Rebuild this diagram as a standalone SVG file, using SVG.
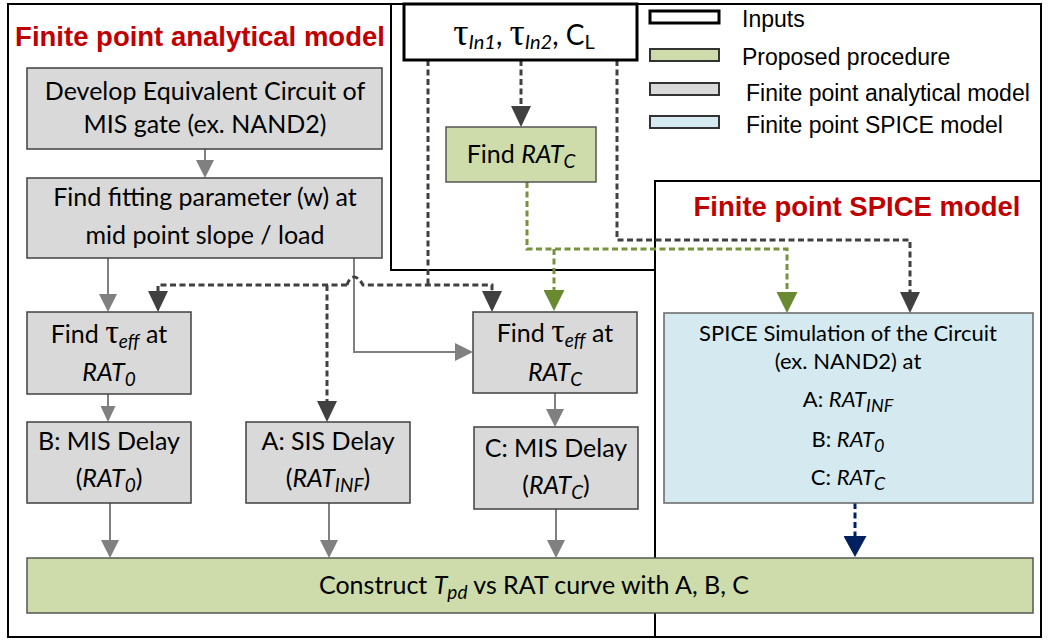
<svg xmlns="http://www.w3.org/2000/svg" width="1049" height="640" viewBox="0 0 1049 640">
<style>
.frame{fill:none;stroke:#000;stroke-width:2}
.gbox{fill:#d9d9d9;stroke:#404040;stroke-width:1.5}
.green{fill:#cddcaa;stroke:#555;stroke-width:1.5}
.blue{fill:#d4eaf0;stroke:#666;stroke-width:1.5}
.t{font-family:Lato,'Noto Sans',sans-serif;font-size:25px;fill:#000;text-anchor:middle}
.it{font-style:italic}
.sub{font-style:italic;font-size:19px}
.tau{font-family:'Liberation Serif',serif;font-size:34px}
.title{font-family:'Liberation Sans',Arial,sans-serif;font-weight:bold;font-size:27.5px;fill:#c00000;text-anchor:middle}
.leg{font-family:'Liberation Sans',Arial,sans-serif;font-size:23px;fill:#000}
.dd{fill:none;stroke:#404040;stroke-width:3;stroke-dasharray:6 3.5}
.gd{fill:none;stroke:#76923c;stroke-width:3;stroke-dasharray:6 3.5}
.nd{fill:none;stroke:#002060;stroke-width:3;stroke-dasharray:6 3.5}
.gs{fill:none;stroke:#808080;stroke-width:2}
.sp{font-size:22px}
.sps{font-size:18px}
</style>
<defs>
<marker id="mGray" markerUnits="userSpaceOnUse" markerWidth="18" markerHeight="18" refX="8" refY="9" orient="auto"><path d="M0,0 L18,9 L0,18 z" fill="#808080"/></marker>
<marker id="mGraySm" markerUnits="userSpaceOnUse" markerWidth="16" markerHeight="15" refX="6" refY="7.5" orient="auto"><path d="M0,0 L16,7.5 L0,15 z" fill="#808080"/></marker>
<marker id="mDark" markerUnits="userSpaceOnUse" markerWidth="21" markerHeight="20" refX="11" refY="10" orient="auto"><path d="M0,0 L21,10 L0,20 z" fill="#404040"/></marker>
<marker id="mGreen" markerUnits="userSpaceOnUse" markerWidth="21" markerHeight="21" refX="11" refY="10.5" orient="auto"><path d="M0,0 L21,10.5 L0,21 z" fill="#6a8a32"/></marker>
<marker id="mNavy" markerUnits="userSpaceOnUse" markerWidth="21" markerHeight="23" refX="11" refY="11.5" orient="auto"><path d="M0,0 L21,11.5 L0,23 z" fill="#002060"/></marker>
</defs>

<g id="frames">
<rect class="frame" x="8" y="4" width="1033" height="633"/>
<path class="frame" d="M391,4 V270 H655"/>
<path class="frame" d="M655,637 V181 H1041"/>
<text class="title" x="200" y="46">Finite point analytical model</text>
<text class="title" x="857" y="216">Finite point SPICE model</text>
</g>

<g id="legend">
<rect x="650" y="11" width="69" height="12" fill="#fff" stroke="#000" stroke-width="3"/>
<rect x="650" y="49" width="69" height="12" fill="#cddcaa" stroke="#333" stroke-width="2"/>
<rect x="650" y="83" width="69" height="12" fill="#d9d9d9" stroke="#333" stroke-width="2"/>
<rect x="650" y="116" width="69" height="12" fill="#d4eaf0" stroke="#333" stroke-width="2"/>
<text class="leg" x="742" y="27">Inputs</text>
<text class="leg" x="742" y="65">Proposed procedure</text>
<text class="leg" x="746" y="101">Finite point analytical model</text>
<text class="leg" x="746" y="133">Finite point SPICE model</text>
</g>

<g id="connectors">
<path class="gs" d="M205,149 V168" marker-end="url(#mGray)"/>
<path class="gs" d="M108,258 V302" stroke-width="2.5" marker-end="url(#mGray)"/>
<path class="gs" d="M108,394 V412" stroke-width="1.5" marker-end="url(#mGraySm)"/>
<path class="gs" d="M354,258 V352 H463" stroke="#a6a6a6" marker-end="url(#mGray)"/>
<path class="gs" d="M555,393 V417" marker-end="url(#mGray)"/>
<path class="gs" d="M110,503 V548" marker-end="url(#mGray)"/>
<path class="gs" d="M329,503 V548" marker-end="url(#mGray)"/>
<path class="gs" d="M556,509 V548" marker-end="url(#mGray)"/>
<path class="dd" d="M428,60 V285"/>
<path class="dd" d="M347,285 H158 V302" marker-end="url(#mDark)"/>
<path class="dd" d="M347,285 C350,275 357,274 363,285 H492 V302" marker-end="url(#mDark)"/>
<path class="dd" d="M327,285 V412" marker-end="url(#mDark)"/>
<path class="dd" d="M521,60 V117" marker-end="url(#mDark)"/>
<path class="dd" d="M617,60 V240 H910 V303" marker-end="url(#mDark)"/>
<path class="gd" d="M527,182 V249 H787 V303" marker-end="url(#mGreen)"/>
<path class="gd" d="M554,249 V301" marker-end="url(#mGreen)"/>
<path class="nd" d="M855,503 V547" marker-end="url(#mNavy)"/>
</g>

<g id="inputs">
<rect x="404" y="4" width="233" height="56" fill="#fff" stroke="#000" stroke-width="3"/>
<text class="t" x="524" y="45" style="font-size:28px"><tspan class="tau" style="font-size:38px">τ</tspan><tspan class="sub" style="font-size:20px" dy="4">In1</tspan><tspan dy="-4">, </tspan><tspan class="tau" style="font-size:38px">τ</tspan><tspan class="sub" style="font-size:20px" dy="4">In2</tspan><tspan dy="-4">, C</tspan><tspan style="font-size:20px" dy="4">L</tspan></text>
</g>

<g id="findRATC">
<rect class="green" x="446" y="127" width="150" height="55"/>
<text class="t" x="521" y="163">Find <tspan class="it">RAT</tspan><tspan class="sub" dy="5">C</tspan></text>
</g>

<g id="develop">
<rect class="gbox" x="27" y="68" width="355" height="81"/>
<text class="t" x="205" y="100">Develop Equivalent Circuit of</text>
<text class="t" x="205" y="133">MIS gate (ex. NAND2)</text>
</g>

<g id="fitting">
<rect class="gbox" x="27" y="178" width="355" height="80"/>
<text class="t" x="205" y="206">Find fitting parameter (w) at</text>
<text class="t" x="205" y="244">mid point slope / load</text>
</g>

<g id="tauRAT0">
<rect class="gbox" x="27" y="312" width="164" height="82"/>
<text class="t" x="109" y="343">Find <tspan class="tau">τ</tspan><tspan class="sub" dy="5">eff</tspan><tspan dy="-5"> at</tspan></text>
<text class="t" x="109" y="381"><tspan class="it">RAT</tspan><tspan class="sub" dy="5">0</tspan></text>
</g>

<g id="delayB">
<rect class="gbox" x="27" y="422" width="164" height="81"/>
<text class="t" x="109" y="450">B: MIS Delay</text>
<text class="t" x="109" y="487">(<tspan class="it">RAT</tspan><tspan class="sub" dy="5">0</tspan><tspan dy="-5">)</tspan></text>
</g>

<g id="delayA">
<rect class="gbox" x="246" y="422" width="164" height="81"/>
<text class="t" x="328" y="450">A: SIS Delay</text>
<text class="t" x="328" y="487">(<tspan class="it">RAT</tspan><tspan class="sub" dy="5">INF</tspan><tspan dy="-5">)</tspan></text>
</g>

<g id="tauRATC">
<rect class="gbox" x="473" y="312" width="164" height="81"/>
<text class="t" x="555" y="342">Find <tspan class="tau">τ</tspan><tspan class="sub" dy="5">eff</tspan><tspan dy="-5"> at</tspan></text>
<text class="t" x="555" y="381"><tspan class="it">RAT</tspan><tspan class="sub" dy="5">C</tspan></text>
</g>

<g id="delayC">
<rect class="gbox" x="474" y="427" width="164" height="82"/>
<text class="t" x="556" y="457">C: MIS Delay</text>
<text class="t" x="556" y="494">(<tspan class="it">RAT</tspan><tspan class="sub" dy="5">C</tspan><tspan dy="-5">)</tspan></text>
</g>

<g id="spice">
<rect class="blue" x="664" y="313" width="369" height="190"/>
<text class="t sp" x="848" y="341">SPICE Simulation of the Circuit</text>
<text class="t sp" x="848" y="369">(ex. NAND2) at</text>
<text class="t sp" x="848" y="407">A: <tspan class="it">RAT</tspan><tspan class="sub sps" dy="5">INF</tspan></text>
<text class="t sp" x="848" y="447">B: <tspan class="it">RAT</tspan><tspan class="sub sps" dy="5">0</tspan></text>
<text class="t sp" x="848" y="485">C: <tspan class="it">RAT</tspan><tspan class="sub sps" dy="5">C</tspan></text>
</g>

<g id="construct">
<rect class="green" x="27" y="558" width="1006" height="55"/>
<text class="t" x="534" y="594">Construct <tspan class="it">T</tspan><tspan class="sub" dy="5">pd</tspan><tspan dy="-5"> vs RAT curve with A, B, C</tspan></text>
</g>
</svg>
